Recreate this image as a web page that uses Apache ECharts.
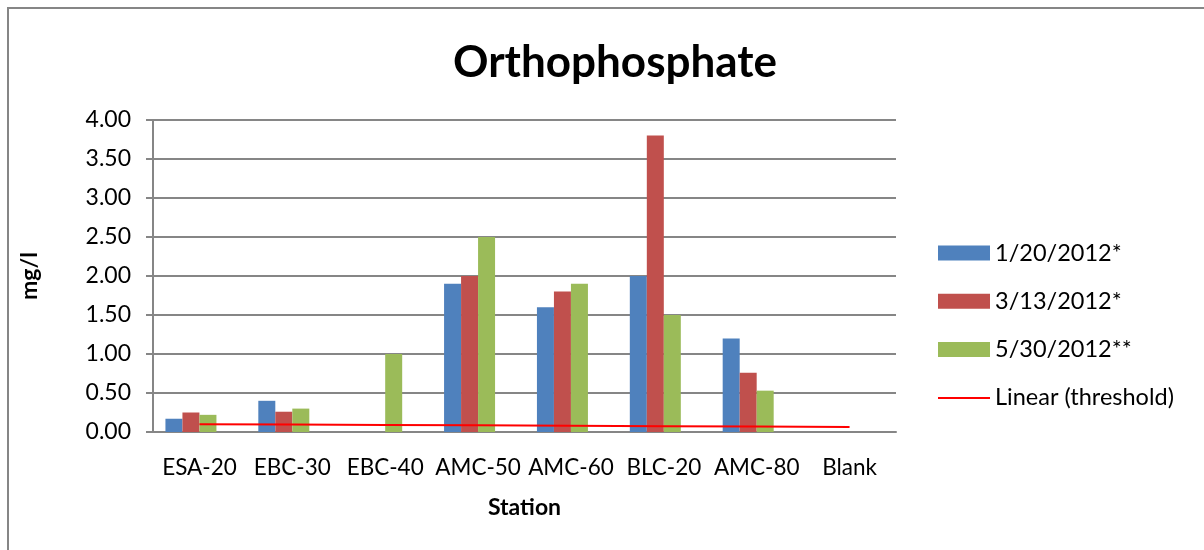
<!DOCTYPE html>
<html>
<head>
<meta charset="utf-8">
<script src="https://cdn.jsdelivr.net/npm/echarts@6/dist/echarts.min.js"></script>
<style>html,body{margin:0;padding:0;background:#fff}#c{width:1204px;height:550px}</style>
</head>
<body>
<div id="c"></div>
<script>
const categories = ['ESA-20','EBC-30','EBC-40','AMC-50','AMC-60','BLC-20','AMC-80','Blank'];
const seriesNames = ['1/20/2012*','3/13/2012*','5/30/2012**'];
const jan20 = [0.17, 0.40, null, 1.90, 1.60, 2.00, 1.20, null];
const mar13 = [0.25, 0.26, null, 2.00, 1.80, 3.80, 0.76, null];
const may30 = [0.22, 0.30, 1.00, 2.50, 1.90, 1.50, 0.53, null];
const thresholdTrend = [0.100, 0.095, 0.090, 0.085, 0.080, 0.075, 0.070, 0.065];
const yTicks = ['0.00','0.50','1.00','1.50','2.00','2.50','3.00','3.50','4.00'];

const font = 'Lato, "Open Sans", sans-serif';
const colors = ['#4F81BD','#C0504D','#9BBB59'];
const chart = echarts.init(document.getElementById('c'));
const barData = [jan20, mar13, may30];
const series = barData.map((d,i)=>({
  name: seriesNames[i], type:'bar', data:d, barWidth:17, barGap:'0%',
  itemStyle:{color:colors[i]}, z:2
}));
series.push({name:'thresholdBar', type:'bar', data: thresholdTrend.map(()=>0), barWidth:17, barGap:'0%',
  itemStyle:{color:'rgba(0,0,0,0)'}, silent:true});
series.push({name:'Linear (threshold)', type:'line', data: thresholdTrend, symbol:'none',
  lineStyle:{color:'#FF0000', width:2}, itemStyle:{color:'#FF0000'}, z:5});

chart.setOption({
  animation:false,
  backgroundColor:'#fff',
  title:{text:'Orthophosphate', left:610, top:36, textAlign:'center',
    textStyle:{fontFamily:font, fontWeight:'bold', fontSize:44, color:'#000'}},
  grid:{left:153, top:120, right:308, bottom:118, containLabel:false},
  legend:{orient:'vertical', left:937, top:241, padding:0, itemWidth:52, itemHeight:15, itemGap:24.3,
    data:[...seriesNames.map(n=>({name:n, icon:'rect'})), {name:'Linear (threshold)', itemStyle:{opacity:0}}],
    textStyle:{fontFamily:font, fontSize:23.5, color:'#000', lineHeight:24}},
  xAxis:{type:'category', data:categories,
    name:'Station', nameLocation:'middle', nameGap:64,
    nameTextStyle:{fontFamily:font, fontWeight:'bold', fontSize:23, color:'#000'},
    axisLine:{lineStyle:{color:'#868686', width:2}},
    axisTick:{show:false},
    axisLabel:{fontFamily:font, fontSize:22.5, color:'#000', margin:24, interval:0}},
  yAxis:{type:'value', min:0, max:4, interval:0.5,
    name:'mg/l', nameLocation:'middle', nameGap:112, nameRotate:90,
    nameTextStyle:{fontFamily:font, fontWeight:'bold', fontSize:23, color:'#000'},
    axisLine:{show:true, lineStyle:{color:'#868686', width:2}},
    axisTick:{show:true, length:7, lineStyle:{color:'#868686', width:2}},
    splitLine:{lineStyle:{color:'#868686', width:2}},
    axisLabel:{fontFamily:font, fontSize:23, color:'#000', margin:22,
      formatter:(v)=>yTicks[Math.round(v/0.5)]}},
  graphic:[{type:'rect', shape:{x:8, y:8, width:1400, height:700},
    style:{fill:'none', stroke:'#868686', lineWidth:2}, silent:true, z:-1}],
  series: series
});
</script>
</body>
</html>
